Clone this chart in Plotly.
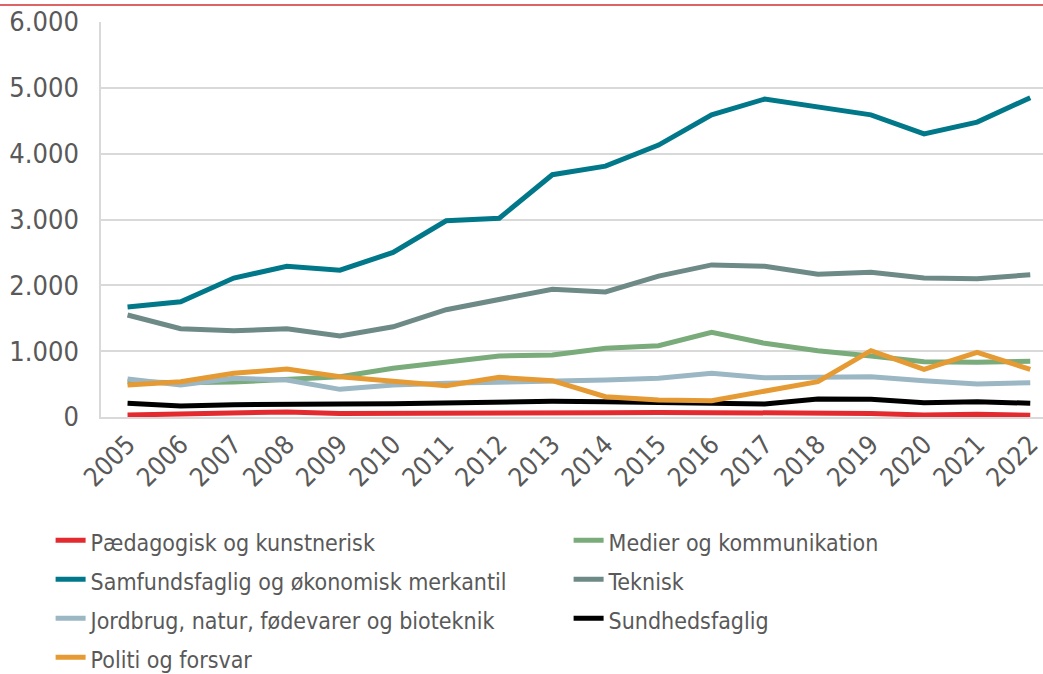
import plotly.graph_objects as go

years = list(range(2005, 2023))

paedagogisk = [30, 40, 50, 76, 55, 55, 55, 55, 50, 66, 70, 70, 55, 66, 55, 30, 40, 25]
medier = [536, 521, 530, 577, 612, 740, 840, 927, 942, 1043, 1083, 1286, 1119, 1007, 927, 840, 830, 846]
samfund = [1670, 1750, 2110, 2290, 2230, 2500, 2980, 3020, 3680, 3810, 4130, 4590, 4830, 4710, 4590, 4300, 4480, 4850]
teknisk = [1550, 1340, 1310, 1340, 1230, 1370, 1630, 1790, 1940, 1900, 2140, 2310, 2290, 2170, 2200, 2110, 2100, 2160]
jordbrug = [577, 486, 587, 562, 420, 486, 512, 527, 537, 562, 587, 663, 597, 597, 612, 552, 501, 521]
sundhed = [208, 167, 187, 198, 198, 200, 218, 233, 238, 233, 218, 208, 198, 273, 268, 218, 233, 208]
politi = [486, 537, 663, 729, 612, 552, 476, 602, 552, 309, 258, 248, 400, 537, 1007, 724, 982, 724]

names = [
    "Pædagogisk og kunstnerisk",
    "Medier og kommunikation",
    "Samfundsfaglig og økonomisk merkantil",
    "Teknisk",
    "Jordbrug, natur, fødevarer og bioteknik",
    "Sundhedsfaglig",
    "Politi og forsvar",
]
values = [paedagogisk, medier, samfund, teknisk, jordbrug, sundhed, politi]
colors = ["#e32a2f", "#7aab7a", "#00788a", "#6e8a86", "#9bb7c4", "#000000", "#e69a34"]

FONT = "'DejaVu Sans Condensed', 'Liberation Sans', sans-serif"

fig = go.Figure()
for i in range(len(names)):
    fig.add_trace(go.Scatter(
        x=years, y=values[i], mode="lines",
        name='<span style="font-size:23px">' + names[i] + '</span>',
        line=dict(color=colors[i], width=5)))

fig.update_layout(
    width=1043, height=674,
    margin=dict(l=101, r=0, t=22, b=257, autoexpand=False),
    paper_bgcolor="white", plot_bgcolor="white",
    separators=",.",
    font=dict(family=FONT, color="#595959"),
    showlegend=True,
    legend=dict(orientation="h", x=-0.0535, xanchor="left", y=-0.25, yanchor="top",
                font=dict(size=27.7, color="#595959", family=FONT),
                entrywidth=473, entrywidthmode="pixels", traceorder="normal"),
    xaxis=dict(range=[2004.5, 2022.24], tickvals=years, ticktext=[str(y) for y in years],
               tickangle=-45, tickfont=dict(size=26, color="#595959"),
               ticklabeloverflow="allow",
               showgrid=False, showline=True, linecolor="#d9d9d9", linewidth=1.5,
               ticks="", zeroline=False),
    yaxis=dict(range=[0, 6000], tickvals=[0, 1000, 2000, 3000, 4000, 5000, 6000],
               tickformat=",d", tickfont=dict(size=27, color="#595959"),
               showgrid=True, gridcolor="#d9d9d9", gridwidth=1.5,
               showline=True, linecolor="#d9d9d9", linewidth=1.5,
               ticks="", zeroline=False, ticklabelstandoff=15),
    shapes=[
        dict(type="line", xref="paper", yref="paper", x0=-0.11, x1=1.0, y0=1.043, y1=1.043,
             line=dict(color="#d32f2f", width=1.5)),
    ],
)

fig.write_html("out.html", config={"displayModeBar": False},
               post_script="document.body.style.margin='0';")
